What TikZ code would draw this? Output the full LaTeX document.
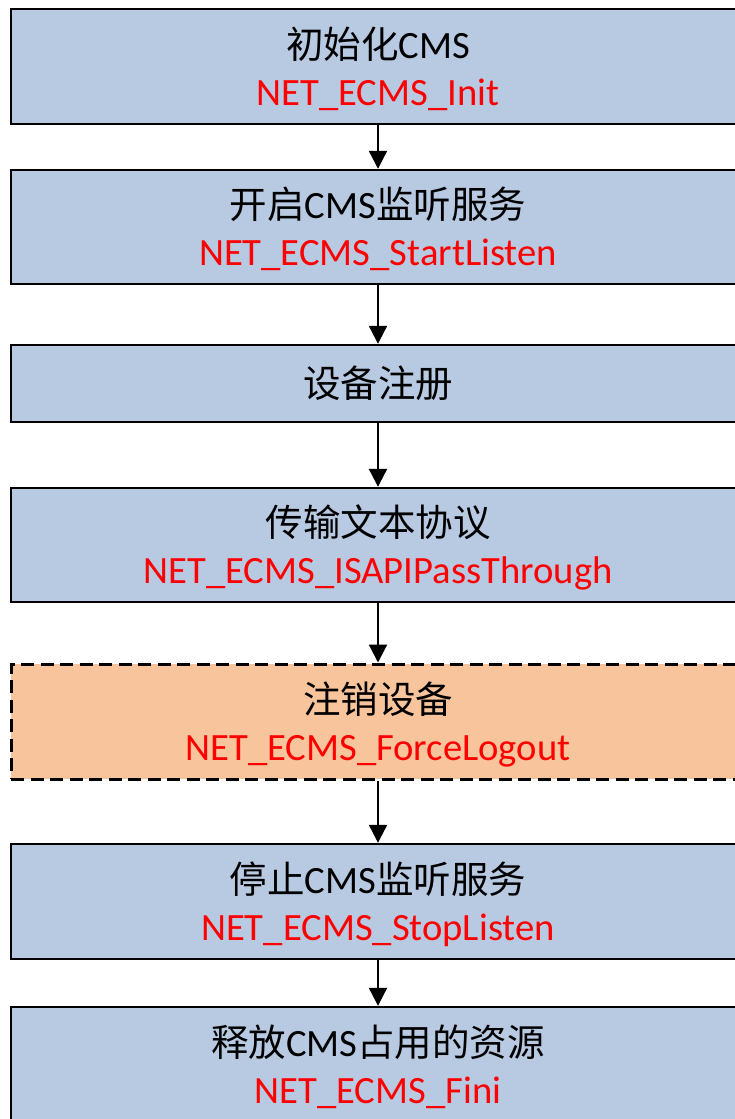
\documentclass[tikz,border=0pt]{standalone}
\usepackage{fontspec}
\setmainfont[Scale=1.03]{Carlito}
\newfontfamily\cjk{Noto Sans CJK SC}
\usetikzlibrary{arrows.meta}
\definecolor{boxblue}{RGB}{184,201,226}
\definecolor{boxorange}{RGB}{248,196,155}
\tikzset{
  stepbox/.style={draw=black, line width=2.4pt, fill=boxblue,
    minimum width=734pt, inner sep=0pt},
  optbox/.style={stepbox, fill=boxorange, line width=3pt,
    dash pattern=on 13pt off 6.5pt},
  title/.style={anchor=base, inner sep=0pt,
    font=\fontsize{37.5}{45}\selectfont},
  api/.style={title, text=red},
  flow/.style={-{Triangle[width=18pt,length=18pt]}, line width=2.2pt},
}
\begin{document}
\begin{tikzpicture}[x=1pt,y=1pt]
\useasboundingbox (0,0) rectangle (735,-1119);
\clip (0,0) rectangle (735,-1119);

% process steps
\node[stepbox, minimum height=115pt] (b1) at (378,-66.5) {};
\node[stepbox, minimum height=114pt] (b2) at (378,-227) {};
\node[stepbox, minimum height=77pt]  (b3) at (378,-383.5) {};
\node[stepbox, minimum height=114pt] (b4) at (378,-545) {};
\node[optbox,  minimum height=115pt] (b5) at (378,-721.5) {};
\node[stepbox, minimum height=115pt] (b6) at (378,-901.5) {};
\node[stepbox, minimum height=115pt] (b7) at (378,-1064.5) {};

% labels: Chinese step name above, API call in red below
\node[title] (t1) at ([yshift=8.5]b1.center) {{\cjk 初始化}CMS};
\node[api]   (a1) at ([yshift=-38.5]b1.center) {NET\_ECMS\_Init};
\node[title] (t2) at ([yshift=8.5]b2.center) {{\cjk 开启}CMS{\cjk 监听服务}};
\node[api]   (a2) at ([yshift=-38.5]b2.center) {NET\_ECMS\_StartListen};
\node[title] (t3) at ([yshift=-14]b3.center) {\cjk 设备注册};
\node[title] (t4) at ([yshift=8.5]b4.center) {\cjk 传输文本协议};
\node[api]   (a4) at ([yshift=-38.5]b4.center) {NET\_ECMS\_ISAPIPassThrough};
\node[title] (t5) at ([yshift=8.5]b5.center) {\cjk 注销设备};
\node[api]   (a5) at ([yshift=-38.5]b5.center) {NET\_ECMS\_ForceLogout};
\node[title] (t6) at ([yshift=8.5]b6.center) {{\cjk 停止}CMS{\cjk 监听服务}};
\node[api]   (a6) at ([yshift=-38.5]b6.center) {NET\_ECMS\_StopListen};
\node[title] (t7) at ([yshift=8.5]b7.center) {{\cjk 释放}CMS{\cjk 占用的资源}};
\node[api]   (a7) at ([yshift=-38.5]b7.center) {NET\_ECMS\_Fini};

% connectors
\draw[flow] (b1.south) -- (b2.north);
\draw[flow] (b2.south) -- (b3.north);
\draw[flow] (b3.south) -- (b4.north);
\draw[flow] (b4.south) -- (b5.north);
\draw[flow] (b5.south) -- (b6.north);
\draw[flow] (b6.south) -- (b7.north);
\end{tikzpicture}
\end{document}
